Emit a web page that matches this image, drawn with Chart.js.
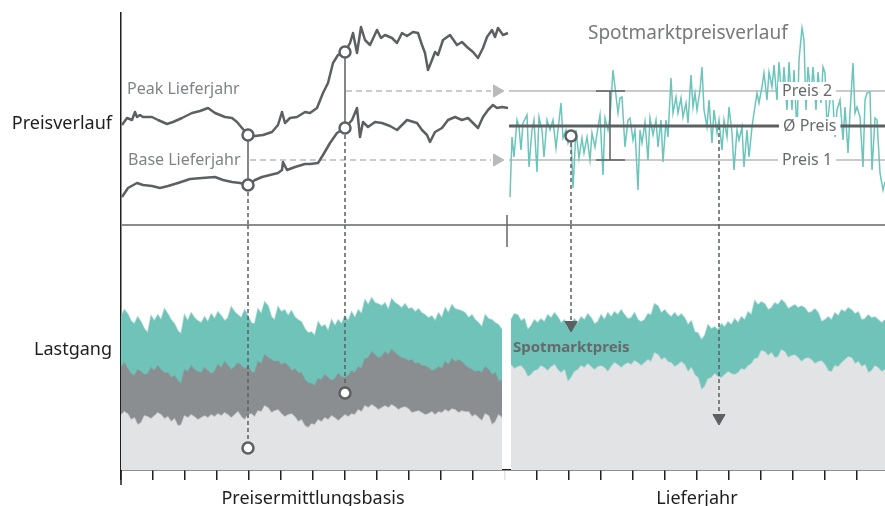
<!DOCTYPE html>
<html>
<head>
<meta charset="utf-8">
<script src="https://cdn.jsdelivr.net/npm/chart.js@4.4.1/dist/chart.umd.min.js"></script>
<style>
  html, body { margin: 0; padding: 0; background: #fff; }
</style>
</head>
<body>
<canvas id="chart" width="885" height="506"></canvas>
<script>
// --- data (x in schematic time units, y in schematic price / load units) ---
const sectionLabels = ["Preisermittlungsbasis", "Lieferjahr"];
const sectionTicks = [192, 576];
const panelLabels = ["Preisverlauf", "Lastgang"];

const peakLieferjahr = [
  [1,100],[6,107],[11,105],[14,113],[16,108],[19,110],[22,108],[31,108],[37,105],[46,101],
  [52,103],[61,107],[71,112],[79,114],[87,117],[94,112],[104,108],[111,107],[116,103],[121,97],
  [127,90],[134,89],[142,90],[151,93],[157,100],[161,113],[164,102],[169,107],[176,108],[184,113],
  [189,112],[196,117],[202,132],[207,142],[212,162],[217,170],[224,173],[229,182],[232,192],[236,172],
  [240,198],[244,185],[249,180],[256,195],[260,187],[264,190],[271,187],[276,182],[281,192],[286,189],
  [292,193],[297,192],[301,180],[304,172],[307,155],[311,165],[314,173],[317,170],[322,185],[329,190],
  [336,180],[341,183],[346,178],[352,173],[357,167],[362,177],[366,188],[371,195],[374,188],[377,197],
  [382,190],[387,192]
];

const baseLieferjahr = [
  [1,28],[7,37],[16,42],[22,40],[31,39],[39,37],[47,39],[57,42],[69,46],[81,47],
  [94,48],[102,45],[111,43],[119,42],[127,40],[134,45],[141,48],[149,50],[157,52],[161,55],
  [162,63],[166,55],[174,58],[184,61],[189,61],[197,62],[202,70],[209,82],[216,92],[224,97],
  [231,105],[236,117],[239,88],[242,103],[247,98],[254,103],[261,102],[269,99],[276,95],[286,105],
  [296,102],[301,95],[306,90],[309,83],[314,93],[321,97],[327,105],[334,108],[341,105],[347,107],
  [352,102],[357,97],[362,108],[367,115],[372,120],[376,117],[381,118],[387,117]
];

const spotPreis = [
  [389,28],[391,88],[393,68],[396,105],[398,98],[400,75],[402,102],[406,110],[408,58],[411,95],
  [413,105],[416,53],[418,108],[421,95],[423,68],[426,105],[429,95],[432,105],[435,77],[437,95],
  [440,122],[442,87],[445,95],[447,82],[450,90],[452,37],[455,95],[458,67],[461,87],[463,72],
  [466,88],[469,65],[471,92],[474,78],[477,98],[479,110],[482,50],[484,107],[487,95],[489,108],
  [492,155],[494,138],[497,112],[499,127],[501,128],[504,78],[507,105],[509,107],[512,85],[514,95],
  [517,35],[519,95],[521,82],[524,103],[527,65],[529,107],[532,90],[535,105],[537,78],[540,105],
  [542,63],[545,105],[547,88],[550,147],[552,112],[555,128],[557,112],[560,127],[562,108],[565,122],
  [567,102],[570,150],[572,118],[574,132],[576,115],[579,135],[581,158],[583,115],[586,98],[588,125],
  [591,82],[593,115],[596,92],[598,105],[601,75],[603,105],[606,88],[608,118],[611,92],[613,55],
  [616,95],[618,85],[621,98],[623,58],[626,95],[628,68],[631,98],[633,112],[636,132],[638,122],
  [641,138],[643,152],[646,125],[648,153],[651,138],[653,160],[656,125],[658,163],[661,125],[663,158],
  [666,115],[668,163],[671,115],[673,155],[676,92],[678,165],[681,197],[683,185],[685,115],[687,158],
  [690,128],[692,158],[695,115],[697,153],[700,122],[702,158],[704,152],[706,98],[709,125],[711,142],
  [714,88],[716,115],[719,125],[722,85],[724,118],[727,72],[729,112],[732,162],[734,112],[736,118],
  [739,108],[742,58],[744,125],[746,132],[749,133],[751,55],[754,107],[756,105],[759,52],[762,35],
  [764,43]
];

const preis2 = 134;
const preisMittel = 99;
const preis1 = 65;

// Lastgang, evenly sampled over each section
const lastLinksSpot = [
  153,160,156,149,146,153,148,141,137,154,149,155,150,161,156,150,146,139,136,155,
  149,157,152,149,147,153,148,156,151,158,154,149,152,163,158,155,152,160,154,147,
  146,161,156,168,164,153,150,163,158,160,154,159,153,150,148,141,137,138,134,148,
  143,145,139,150,144,150,146,154,149,158,152,160,156,170,165,172,167,166,164,167,
  160,171,167,165,162,166,161,162,158,161,157,155,152,154,149,157,152,162,157,165,
  161,160,159,157,152,155,150,147,143,155,151,150,147,145,140
];
const lastLinksPeak = [
  103,107,101,96,94,100,98,95,96,102,99,104,100,97,97,92,94,89,86,100,
  98,104,100,98,97,102,99,96,98,105,102,108,104,100,103,107,104,101,103,98,
  97,108,106,115,112,110,108,109,105,107,104,99,101,97,97,90,87,86,84,91,
  90,95,92,89,91,96,93,92,94,99,97,103,101,111,112,118,115,112,113,118,
  115,120,117,114,112,111,109,110,106,107,104,104,102,99,100,103,101,108,105,111,
  108,110,108,104,102,100,98,99,97,103,100,95,97,88,90
];
const lastLinksBase = [
  55,58,56,50,52,45,47,54,53,51,54,57,55,51,53,48,51,44,45,54,
  52,55,53,50,52,54,52,55,53,56,54,57,55,52,55,58,53,50,55,56,
  53,59,58,64,62,57,59,60,56,53,55,56,53,48,50,44,42,46,45,50,
  48,52,50,54,52,49,52,55,53,56,55,60,58,64,62,65,63,60,62,64,
  62,65,63,60,62,63,61,57,58,59,57,55,56,58,55,58,57,60,58,61,
  60,57,59,58,58,53,55,52,49,56,54,45,48,55,52
];
const lastRechtsSpot = [
  150,156,155,149,151,140,144,150,147,151,148,155,152,157,153,147,150,142,146,151,
  147,153,150,156,152,146,148,155,150,157,153,158,155,160,155,151,152,157,150,148,
  150,156,155,166,164,157,160,156,153,157,153,156,152,145,149,138,137,130,134,145,
  141,143,140,146,143,148,145,151,147,153,150,158,155,169,165,168,166,160,162,167,
  165,170,167,161,163,165,162,164,162,157,158,161,157,148,150,153,150,157,154,160,
  158,162,160,156,158,150,151,155,152,153,150,147,150
];
const lastRechtsBase = [
  105,101,103,104,100,93,95,99,100,104,102,99,103,105,100,97,100,88,92,98,
  100,104,102,106,103,100,103,104,102,98,103,107,105,102,105,107,105,109,107,104,
  107,110,108,117,115,110,112,108,107,103,105,108,105,98,102,95,92,80,83,91,
  92,96,93,92,95,98,96,95,97,101,100,104,106,111,112,119,118,114,117,112,
  113,120,118,112,114,115,112,108,111,112,110,106,108,109,105,99,98,104,103,107,
  110,113,112,106,108,103,105,97,99,104,102,98,100
];

// marked points
const kreisePreis = [[127,90],[127,40],[224,173],[224,97],[450,89]];
const kreiseLast = [[127,22],[224,77]];

// --- styling ---
const DARK = "#5c6062";
const LIGHT_LINE = "#b7b9bb";
const TEAL_LINE = "#6cc5ba";
const TEAL_AREA = "#6fc3b9";
const GREY_AREA = "#8b8e90";
const PALE_AREA = "#e2e3e5";
const AXIS = "#1e1e1e";

const X_MAX = 764;
const LEFT_END = 381;
const RIGHT_START = 390;

const pts = (arr) => arr.map(([x, y]) => ({ x, y }));
const spread = (vals, x0, x1) =>
  vals.map((y, i) => ({ x: x0 + (i * (x1 - x0)) / (vals.length - 1), y }));

Chart.defaults.font.family = '"Noto Sans", sans-serif';

function line(data, yAxisID, color, width, extra) {
  return {
    data,
    yAxisID,
    borderColor: color,
    borderWidth: width,
    pointRadius: 0,
    fill: false,
    ...extra,
  };
}

function area(vals, x0, x1, color, edge, order) {
  return {
    data: spread(vals, x0, x1),
    yAxisID: "yLoad",
    borderWidth: 1.5,
    borderColor: edge,
    backgroundColor: color,
    pointRadius: 0,
    fill: "origin",
    order,
  };
}

const datasets = [
  // Lastgang areas
  area(lastLinksBase, 0, LEFT_END, PALE_AREA, "rgba(226,227,229,0.6)", 5),
  area(lastLinksPeak, 0, LEFT_END, GREY_AREA, "rgba(139,142,144,0.6)", 6),
  area(lastLinksSpot, 0, LEFT_END, TEAL_AREA, "rgba(111,195,185,0.6)", 7),
  area(lastRechtsBase, RIGHT_START, X_MAX, PALE_AREA, "rgba(226,227,229,0.6)", 5),
  area(lastRechtsSpot, RIGHT_START, X_MAX, TEAL_AREA, "rgba(111,195,185,0.6)", 7),

  // reference price lines
  line(pts([[388, preis2], [X_MAX, preis2]]), "yPrice", LIGHT_LINE, 1.5, { order: 4 }),
  line(pts([[388, preis1], [X_MAX, preis1]]), "yPrice", LIGHT_LINE, 1.5, { order: 4 }),
  line(pts(spotPreis), "yPrice", TEAL_LINE, 1.5, { order: 3 }),
  line(pts([[388, preisMittel], [X_MAX, preisMittel]]), "yPrice", DARK, 3, { order: 2 }),

  // futures
  line(pts(peakLieferjahr), "yPrice", DARK, 2.5, { order: 2, borderJoinStyle: "round" }),
  line(pts(baseLieferjahr), "yPrice", DARK, 2.5, { order: 2, borderJoinStyle: "round" }),

  // dashed projections to the delivery year
  line(pts([[225, preis2], [370, preis2]]), "yPrice", LIGHT_LINE, 1.5, { order: 2, borderDash: [6, 4] }),
  line(pts([[129, preis1], [370, preis1]]), "yPrice", LIGHT_LINE, 1.5, { order: 2, borderDash: [6, 4] }),

  // solid connectors peak-base
  line(pts([[127, 90], [127, 40]]), "yPrice", DARK, 1.5, { order: 2 }),
  line(pts([[224, 173], [224, 97]]), "yPrice", DARK, 1.5, { order: 2 }),

  // spread marker
  line(
    [{ x: 475, y: preis2 }, { x: 504, y: preis2 }, { x: 489, y: null },
     { x: 489, y: preis2 }, { x: 489, y: preis1 }, { x: 489, y: null },
     { x: 475, y: preis1 }, { x: 504, y: preis1 }],
    "yPrice", DARK, 1.5, { order: 2 }
  ),

  // dashed drops (price panel part)
  line(pts([[127, 40], [127, 0]]), "yPrice", DARK, 1.5, { order: 1, borderDash: [4, 3] }),
  line(pts([[224, 97], [224, 0]]), "yPrice", DARK, 1.5, { order: 1, borderDash: [4, 3] }),
  line(pts([[450, 89], [450, 0]]), "yPrice", DARK, 1.5, { order: 1, borderDash: [4, 3] }),
  line(pts([[598, preisMittel], [598, 0]]), "yPrice", DARK, 1.5, { order: 1, borderDash: [4, 3] }),

  // dashed drops (load panel part)
  line(pts([[127, 245], [127, 22]]), "yLoad", DARK, 1.5, { order: 1, borderDash: [4, 3] }),
  line(pts([[224, 245], [224, 77]]), "yLoad", DARK, 1.5, { order: 1, borderDash: [4, 3] }),
  line(pts([[450, 245], [450, 150]]), "yLoad", DARK, 1.5, { order: 1, borderDash: [4, 3] }),
  line(pts([[598, 245], [598, 58]]), "yLoad", DARK, 1.5, { order: 1, borderDash: [4, 3] }),

  // arrow heads
  {
    data: pts([[376, preis2], [376, preis1]]),
    yAxisID: "yPrice",
    showLine: false,
    pointStyle: "triangle",
    rotation: 90,
    pointRadius: 7,
    pointBackgroundColor: LIGHT_LINE,
    pointBorderColor: LIGHT_LINE,
    order: 0,
  },
  {
    data: pts([[450, 145], [598, 52]]),
    yAxisID: "yLoad",
    showLine: false,
    pointStyle: "triangle",
    rotation: 180,
    pointRadius: 7,
    pointBackgroundColor: DARK,
    pointBorderColor: DARK,
    order: 0,
  },

  // circles
  {
    data: pts(kreisePreis),
    yAxisID: "yPrice",
    showLine: false,
    pointRadius: 5.5,
    pointBackgroundColor: "#fff",
    pointBorderColor: DARK,
    pointBorderWidth: 2.5,
    order: -1,
  },
  {
    data: pts(kreiseLast),
    yAxisID: "yLoad",
    showLine: false,
    pointRadius: 5.5,
    pointBackgroundColor: "#fff",
    pointBorderColor: DARK,
    pointBorderWidth: 2.5,
    order: -1,
  },
];

function text(ctx, str, x, y, opts) {
  ctx.font = opts.font;
  ctx.textBaseline = "middle";
  ctx.textAlign = "left";
  if (opts.bg) {
    const w = ctx.measureText(str).width;
    ctx.fillStyle = opts.bg;
    ctx.fillRect(x - 4, y - 9, w + 8, 18);
  }
  ctx.fillStyle = opts.color;
  ctx.fillText(str, x, y);
}

const overlay = {
  id: "overlay",
  beforeDatasetsDraw(chart) {
    const { ctx, chartArea, scales } = chart;
    const { x, yLoad } = scales;
    const ySep = yLoad.getPixelForValue(yLoad.max);
    ctx.save();
    ctx.strokeStyle = "#8a8c8e";
    ctx.lineWidth = 2;
    ctx.beginPath();
    ctx.moveTo(chartArea.left, ySep);
    ctx.lineTo(chartArea.right, ySep);
    ctx.stroke();
    // boundary mark between sections
    const xb = x.getPixelForValue(386);
    ctx.strokeStyle = "#666";
    ctx.lineWidth = 1.5;
    ctx.beginPath();
    ctx.moveTo(xb, ySep - 10);
    ctx.lineTo(xb, ySep + 22);
    ctx.stroke();
    // axis foot
    ctx.strokeStyle = AXIS;
    ctx.beginPath();
    ctx.moveTo(chartArea.left, chartArea.bottom);
    ctx.lineTo(chartArea.left, chartArea.bottom + 15);
    ctx.stroke();
    ctx.restore();
  },
  afterDatasetsDraw(chart) {
    const { ctx, scales } = chart;
    const { x, yPrice, yLoad } = scales;
    const px = (v) => x.getPixelForValue(v);
    const py = (v) => yPrice.getPixelForValue(v);
    const ly = (v) => yLoad.getPixelForValue(v);
    ctx.save();
    const grey = { font: "16px 'Noto Sans'", color: "#808385" };
    text(ctx, "Peak Lieferjahr", px(6), py(136), grey);
    text(ctx, "Base Lieferjahr", px(7), py(65), grey);
    text(ctx, "Spotmarktpreisverlauf", px(467), py(191), { font: "19px 'Noto Sans'", color: "#77797b" });
    const lab = { font: "16px 'Noto Sans'", color: "#676a6c", bg: "#fff" };
    text(ctx, "Preis 2", px(661), py(preis2), lab);
    text(ctx, "\u00d8 Preis", px(662), py(preisMittel), lab);
    text(ctx, "Preis 1", px(661), py(preis1), lab);
    text(ctx, "Spotmarktpreis", px(392), ly(122), { font: "bold 15px 'Noto Sans'", color: "#666a6c" });
    ctx.restore();
  },
};

new Chart(document.getElementById("chart"), {
  type: "line",
  data: { datasets },
  plugins: [overlay],
  options: {
    responsive: false,
    animation: false,
    events: [],
    layout: { autoPadding: false, padding: { top: 13, left: 0, right: 0, bottom: 0 } },
    plugins: { legend: { display: false }, tooltip: { enabled: false } },
    scales: {
      x: {
        type: "linear",
        min: 0,
        max: X_MAX,
        border: { color: AXIS, width: 1.5 },
        grid: {
          drawOnChartArea: false,
          drawTicks: true,
          tickLength: 10,
          lineWidth: 1.5,
          color: (c) => (c.tick && c.tick.value === 384 ? "rgba(0,0,0,0.1)" : AXIS),
        },
        ticks: {
          stepSize: 32,
          autoSkip: false,
          includeBounds: false,
          maxRotation: 0,
          padding: 8,
          color: AXIS,
          font: { size: 18 },
          callback: (v) => {
            const i = sectionTicks.indexOf(v);
            return i >= 0 ? sectionLabels[i] : "";
          },
        },
        afterFit: (s) => {
          s.height = 36;
          s.paddingLeft = 0;
          s.paddingRight = 0;
        },
      },
      yPrice: {
        type: "linear",
        position: "left",
        stack: "panels",
        stackWeight: 212,
        weight: 2,
        min: 0,
        max: 212,
        grid: { display: false, drawTicks: false },
        border: { color: AXIS, width: 1.5 },
        afterBuildTicks: (s) => { s.ticks = [{ value: 101 }]; },
        ticks: { padding: 9, color: AXIS, font: { size: 18 }, callback: () => panelLabels[0] },
        afterFit: (s) => {
          s.width = 121;
          s.paddingTop = 0;
          s.paddingBottom = 0;
        },
      },
      yLoad: {
        type: "linear",
        position: "left",
        stack: "panels",
        stackWeight: 245,
        weight: 1,
        min: 0,
        max: 245,
        grid: { display: false, drawTicks: false },
        border: { color: AXIS, width: 1.5 },
        afterBuildTicks: (s) => { s.ticks = [{ value: 120 }]; },
        ticks: { padding: 9, color: AXIS, font: { size: 18 }, callback: () => panelLabels[1] },
        afterFit: (s) => {
          s.width = 121;
          s.paddingTop = 0;
          s.paddingBottom = 0;
        },
      },
    },
  },
});
</script>
</body>
</html>
